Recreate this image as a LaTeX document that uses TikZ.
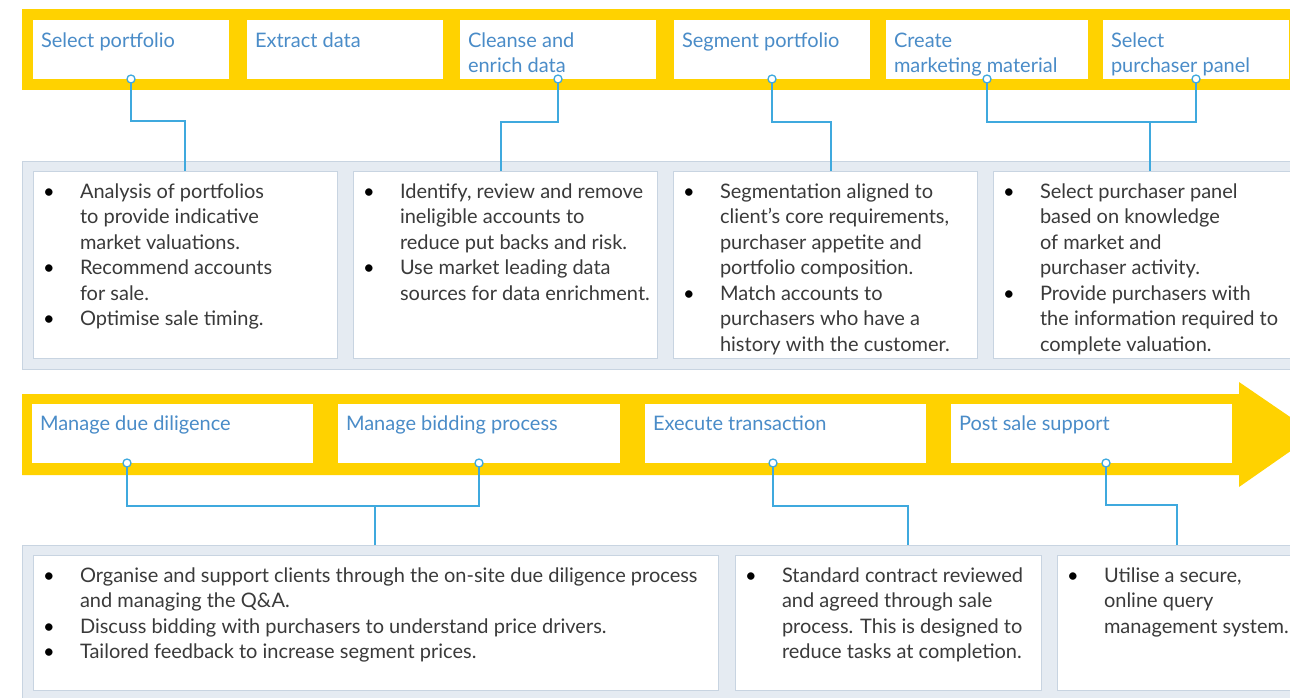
\documentclass[tikz,border=0pt]{standalone}
\usepackage{fontspec}
\setmainfont{Lato}
\usepackage{tikz}
\usetikzlibrary{calc}

\definecolor{bandyellow}{HTML}{FFD200}
\definecolor{labelblue}{HTML}{4A8CC8}
\definecolor{linkblue}{HTML}{3FA9DE}
\definecolor{panelfill}{HTML}{E5EBF2}
\definecolor{paneldraw}{HTML}{C8D4E1}
\definecolor{bodytext}{HTML}{3A3A3A}

\newcommand{\lines}[1]{\begin{tabular}[t]{@{}l@{}}#1\end{tabular}}
\newcommand{\points}[1]{\begin{tabular}[t]{@{}p{37pt}@{}l@{}}#1\end{tabular}}
\newcommand{\bul}{\textcolor{black}{\textbullet}}

\begin{document}
\begin{tikzpicture}[x=1pt,y=-1pt,
	every node/.style={inner sep=0pt,outer sep=0pt},
	stepbox/.style={fill=white,anchor=north west,minimum height=59pt},
	panel/.style={draw=paneldraw,fill=panelfill,line width=1pt,anchor=north west},
	textbox/.style={draw=paneldraw,fill=white,line width=1pt,anchor=north west},
	steptext/.style={anchor=base west,text=labelblue,font=\fontsize{20}{25}\selectfont},
	pointtext/.style={anchor=base west,text=bodytext,font=\fontsize{20}{25.5}\selectfont},
	link/.style={draw=linkblue,line width=1.3pt},
	dot/.style={circle,draw=linkblue,fill=white,line width=1.3pt,minimum size=8pt}]

	\useasboundingbox (0,0) rectangle (1290,697);
	\clip (0,0) rectangle (1290,697);

	\fill[bandyellow] (22,9) rectangle (1300,90);
	\fill[bandyellow] (22,394) -- (1239,394) -- (1239,382) -- (1315,434)
		-- (1239,487) -- (1239,475) -- (22,475) -- cycle;

	\begin{scope}[every node/.append style={stepbox,minimum width=196pt}]
		\node (s1) at (33,20) {};
		\node (s2) at (247,20) {};
		\node (s3) at (460,20) {};
		\node (s4) at (674,20) {};
		\node[minimum width=202pt] (s5) at (886,20) {};
		\node[minimum width=186pt] (s6) at (1103,20) {};
	\end{scope}

	\begin{scope}[every node/.append style={stepbox,minimum width=282pt}]
		\node[minimum width=281pt] (b1) at (32,404) {};
		\node (b2) at (338,404) {};
		\node[minimum width=281pt] (b3) at (645,404) {};
		\node[minimum width=281pt] (b4) at (951,404) {};
	\end{scope}

	\begin{scope}[every node/.append style={steptext}]
		\node (t1) at ([shift={(8,27)}]s1.north west) {Select portfolio};
		\node (t2) at ([shift={(8,27)}]s2.north west) {Extract data};
		\node (t3) at ([shift={(8,27)}]s3.north west) {\lines{Cleanse and\\enrich data}};
		\node (t4) at ([shift={(8,27)}]s4.north west) {Segment portfolio};
		\node (t5) at ([shift={(8,27)}]s5.north west) {\lines{Create\\marketing material}};
		\node (t6) at ([shift={(8,27)}]s6.north west) {\lines{Select\\purchaser panel}};
		\node (u1) at ([shift={(8,26)}]b1.north west) {Manage due diligence};
		\node (u2) at ([shift={(8,26)}]b2.north west) {Manage bidding process};
		\node (u3) at ([shift={(8,26)}]b3.north west) {Execute transaction};
		\node (u4) at ([shift={(8,26)}]b4.north west) {Post sale support};
	\end{scope}

	\node[panel,minimum width=1280pt,minimum height=208pt] (toppanel) at (22,161) {};
	\node[panel,minimum width=1280pt,minimum height=160pt] (lowpanel) at (22,545) {};

	\begin{scope}[every node/.append style={textbox,minimum height=187pt,minimum width=304pt}]
		\node (d1) at (33,171) {};
		\node (d2) at (353,171) {};
		\node (d3) at (673,171) {};
		\node (d4) at (993,171) {};
	\end{scope}

	\begin{scope}[every node/.append style={textbox,minimum height=135pt}]
		\node[minimum width=685pt] (e1) at (33,555) {};
		\node[minimum width=306pt] (e2) at (735,555) {};
		\node[minimum width=240pt] (e3) at (1057,555) {};
	\end{scope}

	\begin{scope}[every node/.append style={pointtext}]
		\node (p1) at ([shift={(10,27)}]d1.north west) {\points{
			\bul & Analysis of portfolios\\
			& to provide indicative\\
			& market valuations.\\
			\bul & Recommend accounts\\
			& for sale.\\
			\bul & Optimise sale timing.}};
		\node (p2) at ([shift={(10,27)}]d2.north west) {\points{
			\bul & Identify, review and remove\\
			& ineligible accounts to\\
			& reduce put backs and risk.\\
			\bul & Use market leading data\\
			& sources for data enrichment.}};
		\node (p3) at ([shift={(10,27)}]d3.north west) {\points{
			\bul & Segmentation aligned to\\
			& client’s core requirements,\\
			& purchaser appetite and\\
			& portfolio composition.\\
			\bul & Match accounts to\\
			& purchasers who have a\\
			& history with the customer.}};
		\node (p4) at ([shift={(10,27)}]d4.north west) {\points{
			\bul & Select purchaser panel\\
			& based on knowledge\\
			& of market and\\
			& purchaser activity.\\
			\bul & Provide purchasers with\\
			& the information required to\\
			& complete valuation.}};
		\node (q1) at ([shift={(10,27)}]e1.north west) {\points{
			\bul & Organise and support clients through the on-site due diligence process\\
			& and managing the Q\&A.\\
			\bul & Discuss bidding with purchasers to understand price drivers.\\
			\bul & Tailored feedback to increase segment prices.}};
		\node (q2) at ([shift={(10,27)}]e2.north west) {\points{
			\bul & Standard contract reviewed\\
			& and agreed through sale\\
			& process. This is designed to\\
			& reduce tasks at completion.}};
		\node (q3) at ([shift={(10,27)}]e3.north west) {\points{
			\bul & Utilise a secure,\\
			& online query\\
			& management system.}};
	\end{scope}

	\coordinate (k2) at ([xshift=-4]d2.north);
	\coordinate (k3) at ([xshift=6]d3.north);
	\coordinate (k4) at ([xshift=5]d4.north);
	\coordinate (m1) at ([xshift=-0.5]lowpanel.north -| e1.north);
	\coordinate (m2) at (908,545);
	\coordinate (m3) at (lowpanel.north -| e3.north);

	\begin{scope}[every node/.append style={dot}]
		\node (o1) at (s1.south) {};
		\node (o3) at (s3.south) {};
		\node (o4) at (s4.south) {};
		\node (o5) at (s5.south) {};
		\node (o6) at (s6.south) {};
		\node (w1) at ([xshift=-45.5]b1.south) {};
		\node (w2) at (b2.south) {};
		\node (w3) at ([xshift=-12.5]b3.south) {};
		\node (w4) at ([xshift=14.5]b4.south) {};
	\end{scope}

	\draw[link] (o1.south) -- ($(o1.center)+(0,42)$) -| (d1.north);
	\draw[link] (o3.south) -- ($(o3.center)+(0,43)$) -| (k2);
	\draw[link] (o4.south) -- ($(o4.center)+(0,43)$) -| (k3);
	\draw[link] (o5.south) -- ($(o5.center)+(0,43)$) -| (o6.south);
	\draw[link] (k4) -- ++(0,-49);
	\draw[link] (w1.south) -- ($(w1.center)+(0,43)$) -| (w2.south);
	\draw[link] (m1) -- ++(0,-39);
	\draw[link] (w3.south) -- ($(w3.center)+(0,43)$) -| (m2);
	\draw[link] (w4.south) -- ($(w4.center)+(0,42)$) -| (m3);
\end{tikzpicture}
\end{document}
